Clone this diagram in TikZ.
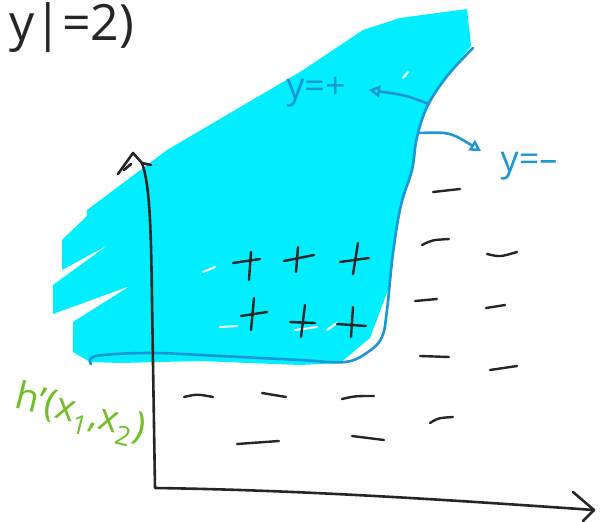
\documentclass[tikz,border=0pt]{standalone}
\usepackage{fontspec}
\setmainfont{Open Sans}
\usetikzlibrary{arrows.meta}
\definecolor{cyanfill}{RGB}{0,238,255}
\definecolor{lineblue}{RGB}{28,150,212}
\definecolor{hgreen}{RGB}{112,190,40}
\definecolor{ink}{RGB}{38,38,38}
\begin{document}
\begin{tikzpicture}[x=1pt,y=-1pt,line cap=round,line join=round,
  inkline/.style={draw=ink,line width=2.6pt},
  blueline/.style={draw=lineblue,line width=2.6pt},
  sign/.style={draw=ink,line width=2.4pt},
  speck/.style={draw=white,line width=2pt},
  bluelabel/.style={inner sep=0pt,text=lineblue,font=\fontsize{36}{36}\selectfont},
  bluearrow/.style={blueline,-{Triangle[open,length=11pt,width=12pt,line width=2.4pt]}}]
\useasboundingbox[fill=white] (0,0) rectangle (605,522);

% cyan shaded region
\fill[cyanfill] (467,9) -- (471,46) -- (448,75) -- (428,105) -- (417,137) -- (412,170)
  -- (401,205) -- (393,253) -- (388,290) -- (370,338) -- (340,363) -- (300,365)
  -- (200,361) -- (120,363) -- (90,362) -- (73,352) -- (73,322) -- (130,286)
  -- (53,314) -- (53,285) -- (108,245) -- (62,270) -- (62,240) -- (87,216)
  -- (87,210) -- (167,150) -- (300,72) -- (363,30) -- (400,18) -- cycle;
% white specks in the shading
\draw[speck] (403,78) -- (408,72);
\draw[speck] (203,272) -- (215,267);
\draw[speck] (220,327) -- (237,326);
\draw[speck] (295,330) -- (317,327);
\draw[speck] (327,330) -- (337,323);

% decision boundary
\draw[blueline] plot[smooth,tension=0.6] coordinates {(91,364) (96,356) (150,353) (220,356)
  (300,360) (345,362) (368,352) (382,337) (387,310) (393,253) (401,205) (412,170)
  (417,137) (428,105) (448,75) (473,48)};
\coordinate (bpos) at (429,104);
\coordinate (bneg) at (418,133);

% labels y=+ and y=-
\node[bluelabel] (ypos) at (316,92) {y=+};
\node[bluelabel] (yneg) at (529,166) {y=–};
\coordinate (postip) at (369,90);
\coordinate (negtip) at (481,151);
\draw[bluearrow] (bpos) .. controls (405,95) .. (postip);
\draw[bluearrow] (bneg) .. controls (450,132) .. (negtip);

% axes
\coordinate (ytip) at (142,163);
\coordinate (org) at (155,488);
\coordinate (xtip) at (594,510);
\draw[inkline] (ytip) .. controls (150,185) and (151,230) .. (152,300) -- (org)
  .. controls (300,490) and (450,500) .. (xtip);
\draw[inkline] (118,174) -- (133,153) -- (142,163) -- (151,165);
\draw[inkline] (124,170) -- (131,164);
\draw[inkline] (573,492) -- (xtip) -- (583,521);

% title text
\node[inner sep=0pt,text=ink,font=\fontsize{50}{50}\selectfont] (title) at (72,28)
  {y|=2)};

% green axis label
\node[inner sep=0pt,text=hgreen,rotate=-14,font=\fontsize{38}{38}\selectfont] (hlab) at (80,415)
  {h’(x\textsubscript{1},x\textsubscript{2})};

% plus signs
\draw[sign] (233,263) -- (260,259) (251,252) -- (249,280);
\draw[sign] (284,261) -- (314,255) (298,247) -- (296,272);
\draw[sign] (340,262) -- (369,258) (358,243) -- (353,274);
\draw[sign] (241,316) -- (267,312) (254,298) -- (251,330);
\draw[sign] (290,322) -- (315,323) (305,305) -- (301,337);
\draw[sign] (337,324) -- (366,326) (353,307) -- (351,337);

% minus signs
\draw[sign] (433,192) -- (460,189);
\draw[sign] (422,245) .. controls (432,240) .. (449,239);
\draw[sign] (487,254) .. controls (500,257) .. (517,252);
\draw[sign] (415,301) -- (437,299);
\draw[sign] (486,308) -- (505,305);
\draw[sign] (420,356) -- (449,357);
\draw[sign] (490,370) -- (517,366);
\draw[sign] (184,397) .. controls (197,394) .. (213,397);
\draw[sign] (262,393) -- (286,397);
\draw[sign] (342,399) .. controls (355,396) .. (374,396);
\draw[sign] (430,423) .. controls (438,418) .. (453,417);
\draw[sign] (237,444) -- (279,441);
\draw[sign] (352,436) -- (384,440);
\end{tikzpicture}
\end{document}
